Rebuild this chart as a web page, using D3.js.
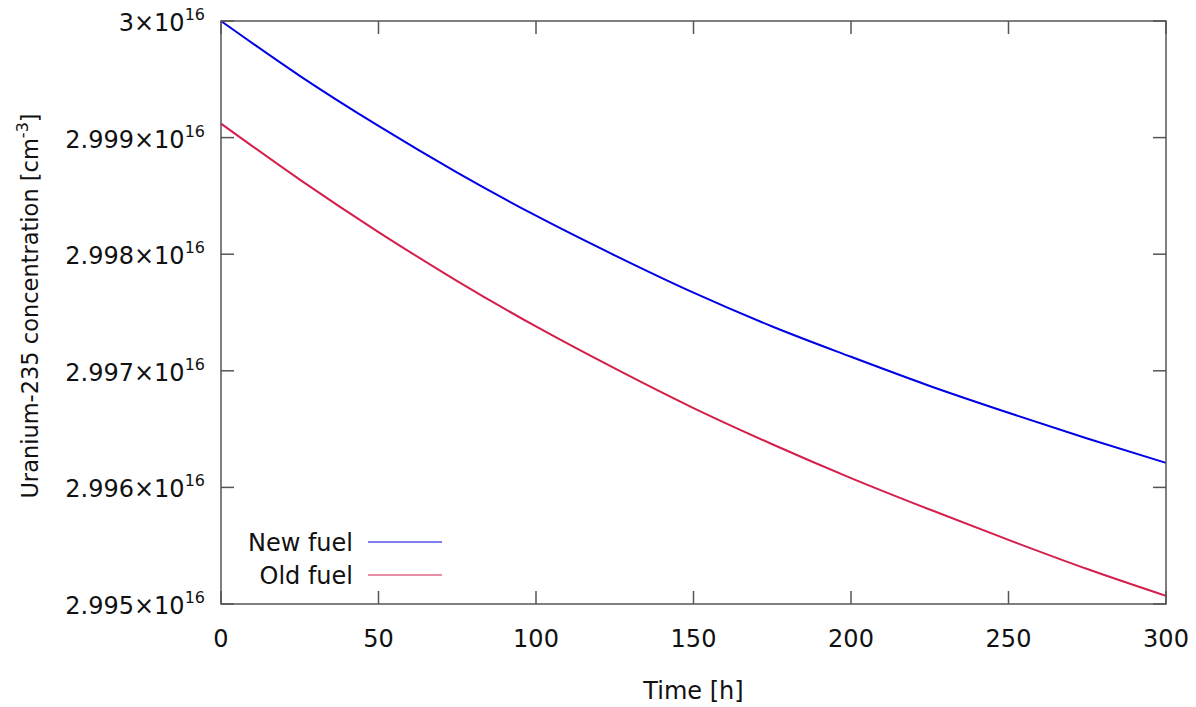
<!DOCTYPE html>
<html>
<head>
<meta charset="utf-8">
<script src="https://cdn.jsdelivr.net/npm/d3@7"></script>
<style>
  body { margin: 0; background: #fff; }
  text { font-family: "DejaVu Sans", Verdana, sans-serif; fill: #111; }
</style>
</head>
<body>
<div id="chart"></div>
<script>
// time in hours, concentrations as mantissa of x10^16 cm^-3
const hours = [0, 25, 50, 75, 100, 125, 150, 175, 200, 225, 250, 275, 300]
const newFuel = [3.00000, 2.99953, 2.99910, 2.99870, 2.99833, 2.99799, 2.99767, 2.99738, 2.99712, 2.99687, 2.99664, 2.99642, 2.99621]
const oldFuel = [2.99912, 2.99864, 2.99819, 2.99777, 2.99738, 2.99702, 2.99668, 2.99637, 2.99608, 2.99581, 2.99555, 2.99530, 2.99507]
const seriesNames = ['New fuel', 'Old fuel']
const seriesColors = ['#0000e6', '#d41f4c']
const xTicks = [0, 50, 100, 150, 200, 250, 300]
const yTicks = [2.995, 2.996, 2.997, 2.998, 2.999, 3]

const width = 1196, height = 707
const margin = {left: 221, right: 30, top: 21, bottom: 103}

const svg = d3.select('#chart').append('svg')
  .attr('width', width)
  .attr('height', height)

const x = d3.scaleLinear().domain([0, 300]).range([margin.left, width - margin.right])
const y = d3.scaleLinear().domain([2.995, 3]).range([height - margin.bottom, margin.top])

const axisCol = '#555'
const tickLen = 13
const fs = 24

// curves first, frame over them
const line = d3.line()
  .x(d => x(d[0]))
  .y(d => y(d[1]))
  .curve(d3.curveMonotoneX)

const series = [newFuel, oldFuel]
series.forEach((vals, i) => {
  svg.append('path')
    .datum(hours.map((h, j) => [h, vals[j]]))
    .attr('fill', 'none')
    .attr('stroke', seriesColors[i])
    .attr('stroke-width', 2)
    .attr('d', line)
})

// frame + mirrored inward ticks
const frame = svg.append('g').attr('stroke', axisCol).attr('stroke-width', 1.5)
frame.append('rect')
  .attr('x', x(0)).attr('y', y(3))
  .attr('width', x(300) - x(0)).attr('height', y(2.995) - y(3))
  .attr('fill', 'none')

xTicks.forEach(t => {
  frame.append('line').attr('x1', x(t)).attr('x2', x(t)).attr('y1', y(2.995)).attr('y2', y(2.995) - tickLen)
  frame.append('line').attr('x1', x(t)).attr('x2', x(t)).attr('y1', y(3)).attr('y2', y(3) + tickLen)
})
yTicks.forEach(t => {
  frame.append('line').attr('x1', x(0)).attr('x2', x(0) + tickLen).attr('y1', y(t)).attr('y2', y(t))
  frame.append('line').attr('x1', x(300)).attr('x2', x(300) - tickLen).attr('y1', y(t)).attr('y2', y(t))
})

// tick labels
svg.append('g').selectAll('text')
  .data(xTicks)
  .join('text')
  .attr('x', d => x(d))
  .attr('y', y(2.995) + 43)
  .attr('text-anchor', 'middle')
  .attr('font-size', fs)
  .text(d => d)

const yl = svg.append('g').selectAll('text')
  .data(yTicks)
  .join('text')
  .attr('x', 205)
  .attr('y', d => y(d) + 10)
  .attr('text-anchor', 'end')
  .attr('font-size', fs)
yl.append('tspan').text(d => d3.format('.4~f')(d) + '×10')
yl.append('tspan').attr('font-size', 16).attr('dy', -11).text('16')

// axis titles
svg.append('text')
  .attr('x', (x(0) + x(300)) / 2)
  .attr('y', 699)
  .attr('text-anchor', 'middle')
  .attr('font-size', fs)
  .text('Time [h]')

const yt = svg.append('text')
  .attr('transform', 'translate(38,306) rotate(-90)')
  .attr('text-anchor', 'middle')
  .attr('font-size', 22.5)
yt.append('tspan').text('Uranium-235 concentration [cm')
yt.append('tspan').attr('font-size', 16).attr('dy', -10).text('-3')
yt.append('tspan').attr('dy', 10).text(']')

// key
seriesNames.forEach((name, i) => {
  const ly = 542 + i * 33
  svg.append('text')
    .attr('x', 353).attr('y', ly + 9)
    .attr('text-anchor', 'end')
    .attr('font-size', fs)
    .text(name)
  svg.append('line')
    .attr('x1', 368).attr('x2', 442)
    .attr('y1', ly).attr('y2', ly)
    .attr('stroke', seriesColors[i])
    .attr('stroke-width', 1.2)
})
</script>
</body>
</html>
